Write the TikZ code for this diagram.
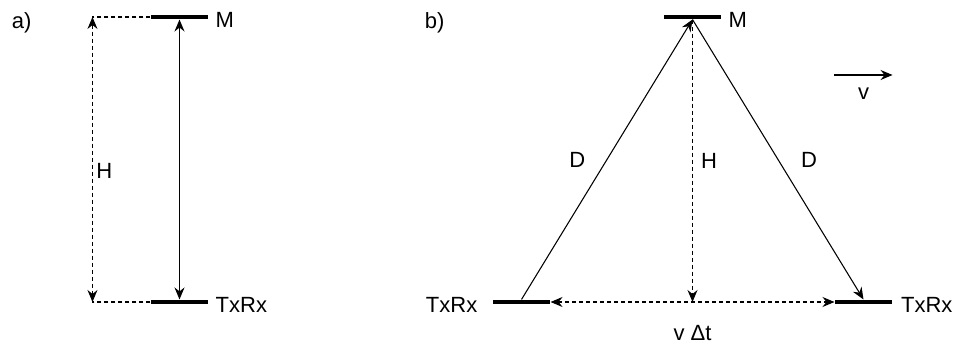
\documentclass[tikz,border=0pt]{standalone}
\usepackage{fontspec}
\setmainfont{Liberation Sans}
\usetikzlibrary{positioning,arrows.meta}

\begin{document}
\begin{tikzpicture}[x=0.75pt,y=0.75pt,font=\fontsize{16.5}{19}\selectfont,line width=0.8pt,
  >={Stealth[length=9pt,width=7.5pt,inset=3pt]},
  bar/.style={fill=black,minimum width=42.75pt,minimum height=3pt,inner sep=0pt},
  lbl/.style={inner sep=1pt},
  side/.style={inner sep=1pt,yshift=-2pt},
  dsh/.style={dash pattern=on 3pt off 2.25pt}]
  \useasboundingbox (0,0) rectangle (953,345);
  \node[lbl,anchor=base west] (ta) at (10,316) {a)};
  \node[bar] (aM) at (179.5,328) {};
  \node[bar] (aT) at (179.5,43) {};
  \node[side,right=4pt of aM] (aMl) {M};
  \node[side,right=4pt of aT] (aTl) {TxRx};
  \coordinate[left=43.5pt of aM.west] (aHt);
  \coordinate[left=43.5pt of aT.west] (aHb);
  \draw[dsh] (aM.west)--(aHt); \draw[dsh] (aT.west)--(aHb);
  \draw[dsh,<->] (aHt)--node[lbl,right=1.6pt,pos=0.54]{H}(aHb);
  \draw[<->] (aM.south)--(aT.north);
  \node[lbl,anchor=base west] (tb) at (423,316) {b)};
  \node[bar] (bM) at (692.5,328) {};
  \node[bar] (bL) at (521.5,43) {};
  \node[bar] (bR) at (863.5,43) {};
  \node[side,right=4pt of bM] (bMl) {M};
  \node[side,left=10pt of bL] (bLl) {TxRx};
  \node[side,right=5pt of bR] (bRl) {TxRx};
  \coordinate (bH) at (bM |- bL);
  \draw[->] (bL.north)--node[lbl,left=15pt]{D}(bM.south);
  \draw[->] (bM.south)--node[lbl,right=16pt]{D}(bR.north);
  \draw[dsh,->] (bM.south)--node[lbl,right=5pt]{H}(bH);
  \draw[dsh,<->] (bL.east)--(bR.west);
  \node[lbl,below=16pt of bH] (dt) {v Δt};
  \coordinate (vS) at (bR.west |- 0,270);
  \coordinate (vE) at (bR.east |- 0,270);
  \draw[->] (vS)--node[lbl,below=8pt]{v}(vE);
\end{tikzpicture}
\end{document}
